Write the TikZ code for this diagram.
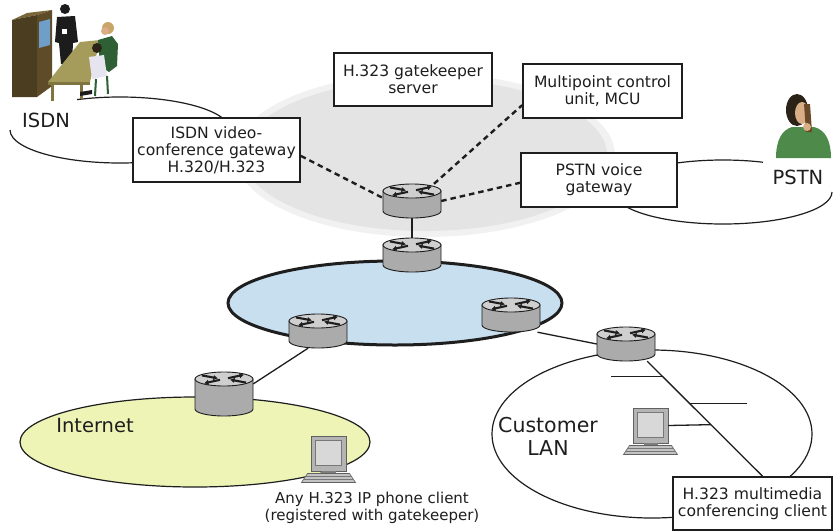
\documentclass[tikz,border=0pt]{standalone}
\usepackage{fontspec}
\setmainfont{DejaVu Sans}
\usetikzlibrary{calc,arrows.meta}

\definecolor{ink}{HTML}{1E1E1E}
\definecolor{haze}{HTML}{E4E4E4}
\definecolor{corefill}{HTML}{C8DFF0}
\definecolor{netfill}{HTML}{EEF4B6}
\definecolor{rtbody}{HTML}{ABABAB}
\definecolor{rttop}{HTML}{CFCFCF}
\definecolor{pcframe}{HTML}{B4B4B4}
\definecolor{pcscreen}{HTML}{D8D8D8}
\definecolor{cabfront}{HTML}{4B3D1F}
\definecolor{cabside}{HTML}{5E4B27}
\definecolor{cabtop}{HTML}{7A6638}
\definecolor{cabscreen}{HTML}{6F9FC8}
\definecolor{suit}{HTML}{1C1C1C}
\definecolor{tabletop}{HTML}{A59C5C}
\definecolor{tableedge}{HTML}{7E7540}
\definecolor{sweater}{HTML}{2F5F35}
\definecolor{sweatertwo}{HTML}{4E8A4A}
\definecolor{blond}{HTML}{C9A56A}
\definecolor{darkhair}{HTML}{2B2218}
\definecolor{skin}{HTML}{D9AD86}
\definecolor{shirt}{HTML}{E6E4EE}
\definecolor{handset}{HTML}{6B4A2A}

\tikzset{
  every node/.style={text=ink},
  infobox/.style={draw=ink, line width=1.7pt, fill=white, inner sep=0pt,
    align=center, font=\fontsize{15.6}{17}\selectfont},
  cloudline/.style={draw=ink, line width=1.2pt},
  routerbox/.style={inner sep=0pt, minimum width=58pt, minimum height=34pt},
  pcbox/.style={inner sep=0pt, minimum width=35pt, minimum height=35pt},
  link/.style={draw=ink, line width=1.3pt},
  signal/.style={draw=ink, line width=2.4pt, dash pattern=on 5.5pt off 4pt},
  biglabel/.style={inner sep=0pt, align=center, font=\fontsize{19.5}{22}\selectfont},
  notelabel/.style={inner sep=0pt, align=center, font=\fontsize{15}{17.5}\selectfont},
}

% router cylinder: [height]{name}{x}{y}
\newcommand\router[4][34]{%
  \node[routerbox, minimum height=#1pt] (#2) at (#3,#4) {};
  \pgfmathsetmacro\rhalf{#1/2}
  \begin{scope}[shift={(#2.center)}]
    \filldraw[fill=rtbody, draw=ink, line width=0.9pt]
      (-29,-\rhalf+7) -- (-29,\rhalf-7)
      arc[start angle=180, end angle=0, x radius=29, y radius=7]
      -- (29,-\rhalf+7) -- cycle;
    \begin{scope}[shift={(0,-\rhalf+7)}]
      \filldraw[fill=rttop, draw=ink, line width=0.9pt]
        (0,0) ellipse[x radius=29, y radius=7];
      \begin{scope}[line width=2.1pt, ink, -{Latex[length=4.5pt,width=5.5pt]}]
        \draw (-22,-3.6) -- (-6,-0.6);
        \draw (22,3.6) -- (6,0.6);
        \draw (4,-0.8) -- (20,-4.3);
        \draw (-4,0.8) -- (-20,4.3);
      \end{scope}
    \end{scope}
  \end{scope}
}

% desktop computer: {name}{x}{y} (monitor centre)
\newcommand\computer[3]{%
  \node[pcbox] (#1) at (#2,#3) {};
  \begin{scope}[shift={(#1.center)}]
    \filldraw[fill=pcframe, draw=ink!70, line width=0.6pt] (-17.5,-17.5) rectangle (17.5,17.5);
    \filldraw[fill=pcscreen, draw=ink!60, line width=0.6pt] (-13,-13) rectangle (13,12);
    \fill[pcframe!70!black] (-7,17.5) rectangle (7,20);
    \filldraw[fill=pcframe!80, draw=ink!70, line width=0.6pt]
      (-21,20) -- (21,20) -- (27,29) -- (-27,29) -- cycle;
    \draw[ink!60, line width=0.5pt] (-23,23) -- (23,23) (-25,26) -- (25,26);
  \end{scope}
}

\begin{document}
\begin{tikzpicture}[x=1pt, y=-1pt]
\useasboundingbox (0,0) rectangle (838,531);
\fill[white] (0,0) rectangle (838,531);

% soft grey backdrop behind the call-control servers
\fill[haze, opacity=0.5] (425,155) ellipse[x radius=190, y radius=82];
\fill[haze] (425,155) ellipse[x radius=182, y radius=76];

% network clouds
\draw[cloudline] (120,130) ++(-113:110 and 33)
  arc[start angle=-113, end angle=180, x radius=110, y radius=33];
\draw[cloudline] (723,192) ++(0:109 and 32)
  arc[start angle=0, end angle=291.5, x radius=109, y radius=32];
\filldraw[fill=netfill, cloudline] (195,442) ellipse[x radius=175, y radius=45];
\filldraw[fill=corefill, draw=ink, line width=3pt] (395,303) ellipse[x radius=167, y radius=42];
\draw[cloudline] (652,434) ellipse[x radius=160, y radius=84];

% servers and gateways
\node[infobox, minimum width=158pt, minimum height=53pt] (gk) at (413,79.5)
  {H.323 gatekeeper\\server};
\node[infobox, minimum width=159pt, minimum height=54pt] (mcu) at (602.5,91)
  {Multipoint control\\unit, MCU};
\node[infobox, minimum width=156pt, minimum height=54pt] (pstngw) at (599,180)
  {PSTN voice\\gateway};
\node[infobox, minimum width=167pt, minimum height=64pt] (isdngw) at (216.5,150)
  {ISDN video-\\conference gateway\\H.320/H.323};
\node[infobox, minimum width=159pt, minimum height=53pt] (lmc) at (752.5,503.5)
  {H.323 multimedia\\conferencing client};

% routers
\router{r1}{412}{201}
\router{r2}{412}{255}
\router{r3}{318}{331}
\router{r4}{511}{315}
\router{r5}{626}{344}
\router[44]{r6}{224}{394}

% end stations
\computer{lanpc}{650.5}{425.5}
\computer{netpc}{328.5}{453.5}

% signalling paths to the edge router
\draw[signal] (isdngw.-4) -- (r1.174);
\draw[signal] (r1.38) -- (mcu.190);
\draw[signal] (r1.east) -- (pstngw.182);

% backbone links
\draw[link] (r1.south) -- (r2.north);
\draw[link] (r3.240) -- (r6.19);
\draw[link] (r4.-33) -- (r5.west);

% customer LAN bus and drops
\coordinate (busTop) at (r5.-39);
\coordinate (busEnd) at ([xshift=10pt]lmc.north);
\draw[link] (busTop) -- (busEnd);
\coordinate (tapA) at ($(busTop)!0.13!(busEnd)$);
\coordinate (tapB) at ($(busTop)!0.37!(busEnd)$);
\coordinate (tapC) at ($(busTop)!0.552!(busEnd)$);
\draw[link] (tapA) -- ++(-51,0);
\draw[link] (tapB) -- ++(57,0);
\draw[link] (lanpc.east) -- (tapC);

% labels
\node[biglabel] (isdnlbl) at (46,120) {ISDN};
\node[biglabel] (pstnlbl) at (798,177) {PSTN};
\node[biglabel] (netlbl) at (95,426) {Internet};
\node[biglabel, font=\fontsize{20.5}{23}\selectfont] (lanlbl) at (548,436) {Customer\\LAN};
\node[notelabel] (netpclbl) at (372,508)
  {Any H.323 IP phone client\\(registered with gatekeeper)};

% ISDN studio: cabinet with screen, presenter, table and participants
\fill[cabtop] (12,20) -- (27,13) -- (52,10) -- (37,15) -- cycle;
\fill[cabfront] (12,20) -- (37,15) -- (37,97) -- (12,97) -- cycle;
\fill[cabside] (37,15) -- (52,10) -- (52,86) -- (37,97) -- cycle;
\fill[cabscreen] (39,22) -- (50,19) -- (50,45) -- (39,48) -- cycle;
\fill[suit] (65,9) circle[radius=5];
\fill[suit] (57,17) -- (75,16) -- (78,42) -- (73,43) -- (72,64) -- (61,64) -- (59,43) -- (55,42) -- cycle;
\fill[white] (62,29) rectangle (67,34);
\fill[tabletop] (48,82) -- (80,42) -- (100,40) -- (90,82) -- cycle;
\fill[tableedge] (48,82) -- (90,82) -- (90,85) -- (48,85) -- cycle;
\fill[tableedge] (51,85) rectangle (54,101);
\fill[tableedge] (80,85) rectangle (83,99);
\fill[blond] (108,28) circle[radius=6];
\fill[skin] (105,31) circle[radius=4];
\fill[sweater] (98,40) -- (112,36) -- (118,44) -- (117,66) -- (109,72) -- (100,66) -- cycle;
\fill[darkhair] (97,48) circle[radius=5];
\fill[shirt] (89,57) -- (104,55) -- (107,76) -- (92,79) -- cycle;
\draw[sweater, line width=2pt] (96,79) -- (95,96) (107,76) -- (108,94);
\fill[suit] (80,92) -- (92,90) -- (92,94) -- (80,96) -- cycle;

% PSTN caller on the phone
\fill[sweatertwo] (776,158) .. controls (776,140) and (782,130) .. (792,127)
  -- (814,127) .. controls (826,130) and (831,142) .. (831,158) -- cycle;
\fill[darkhair] (797,110) ellipse[x radius=11, y radius=16];
\fill[skin] (802,113) ellipse[x radius=7, y radius=11];
\fill[handset] (804,104) -- (810,104) -- (812,132) -- (806,132) -- cycle;
\fill[skin] (807,127) circle[radius=4];
\end{tikzpicture}
\end{document}
